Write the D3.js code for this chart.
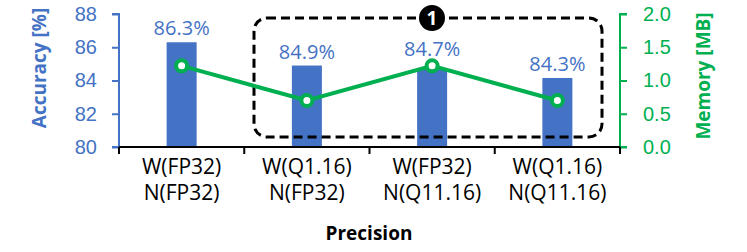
<!DOCTYPE html>
<html>
<head>
<meta charset="utf-8">
<script src="https://cdn.jsdelivr.net/npm/d3@7"></script>
<style>
  body { margin: 0; background: #fff; }
  svg { font-family: "Open Sans", "Noto Sans", sans-serif; }
</style>
</head>
<body>
<script>
(function(){

//chart data
var categories = ["W(FP32)|N(FP32)", "W(Q1.16)|N(FP32)", "W(FP32)|N(Q11.16)", "W(Q1.16)|N(Q11.16)"];
var accuracy = [86.3, 84.9, 84.7, 84.15];
var accuracyLabels = ["86.3%", "84.9%", "84.7%", "84.3%"];
var memory = [1.22, 0.70, 1.22, 0.70];
var accTicks = [80, 82, 84, 86, 88];
var memTicks = [0, 0.5, 1.0, 1.5, 2.0];

var blue = "#4472C4",
    green = "#00B050";

var width = 747, height = 252;

var svg = d3.select("body").append("svg")
    .attr("width", width)
    .attr("height", height);

//scales
var x = d3.scaleBand()
    .domain(categories)
    .range([119, 620])
    .padding(0);

var yAcc = d3.scaleLinear().domain([80, 88]).range([147, 14]);
var yMem = d3.scaleLinear().domain([0, 2]).range([147, 14]);

var barWidth = 30;

function cx(i){ return x(categories[i]) + x.bandwidth() / 2; }

//left axis
var leftAxis = svg.append("g")
    .attr("transform", "translate(119,0)")
    .call(d3.axisLeft(yAcc).tickValues(accTicks).tickSize(7).tickPadding(15).tickFormat(d3.format("d")));
leftAxis.selectAll("path, line").attr("stroke", blue).attr("stroke-width", 2);
leftAxis.selectAll("text").attr("fill", blue).style("font-size", "20px");
leftAxis.select(".domain").attr("d", "M-7,147H0V14H-7");

//right axis
var rightAxis = svg.append("g")
    .attr("transform", "translate(620,0)")
    .call(d3.axisRight(yMem).tickValues(memTicks).tickSize(7).tickPadding(16).tickFormat(d3.format(".1f")));
rightAxis.selectAll("path, line").attr("stroke", green).attr("stroke-width", 2);
rightAxis.selectAll("text").attr("fill", green).style("font-size", "20px");
rightAxis.select(".domain").attr("d", "M7,147H0V14H7");

//bars
svg.selectAll(".bar")
    .data(accuracy)
    .enter()
    .append("rect")
    .attr("class", "bar")
    .attr("x", function(d, i){ return cx(i) - barWidth / 2; })
    .attr("y", function(d){ return yAcc(d); })
    .attr("width", barWidth)
    .attr("height", function(d){ return yAcc(80) - yAcc(d); })
    .attr("fill", blue);

//bar value labels, lifted above the memory marker where they would overlap
svg.selectAll(".barLabel")
    .data(accuracy)
    .enter()
    .append("text")
    .attr("class", "barLabel")
    .attr("x", function(d, i){ return cx(i); })
    .attr("y", function(d, i){ return Math.min(yAcc(d), yMem(memory[i]) - 3) - 7; })
    .attr("text-anchor", "middle")
    .attr("fill", blue)
    .style("font-size", "20px")
    .text(function(d, i){ return accuracyLabels[i]; });

//x axis baseline with boundary ticks
var bottom = svg.append("g");
bottom.append("line")
    .attr("x1", 119).attr("x2", 620)
    .attr("y1", 147).attr("y2", 147)
    .attr("stroke", "#000").attr("stroke-width", 2);
var bounds = categories.map(function(c){ return x(c); }).concat([x.range()[1]]);
bottom.selectAll(".xtick")
    .data(bounds)
    .enter()
    .append("line")
    .attr("x1", function(d){ return d; })
    .attr("x2", function(d){ return d; })
    .attr("y1", 147).attr("y2", 154)
    .attr("stroke", "#000").attr("stroke-width", 2);

//category labels (two lines)
var catLabels = svg.selectAll(".cat")
    .data(categories)
    .enter()
    .append("text")
    .attr("class", "cat")
    .attr("text-anchor", "middle")
    .attr("fill", "#000")
    .style("font-size", "21px");
catLabels.each(function(d){
    var lines = d.split("|");
    var t = d3.select(this);
    lines.forEach(function(l, j){
        t.append("tspan")
            .attr("x", x(d) + x.bandwidth() / 2)
            .attr("y", 174 + j * 26)
            .text(l);
    });
});

//axis titles
svg.append("text")
    .attr("x", 369).attr("y", 240)
    .attr("text-anchor", "middle")
    .style("font-size", "19px").style("font-weight", "bold")
    .text("Precision");

svg.append("text")
    .attr("transform", "translate(46,68) rotate(-90)")
    .attr("text-anchor", "middle")
    .attr("fill", blue)
    .style("font-size", "19px").style("font-weight", "bold")
    .text("Accuracy [%]");

svg.append("text")
    .attr("transform", "translate(710,76) rotate(-90)")
    .attr("text-anchor", "middle")
    .attr("fill", green)
    .style("font-size", "19px").style("font-weight", "bold")
    .text("Memory [MB]");

//dashed annotation box
svg.append("rect")
    .attr("x", 254).attr("y", 18)
    .attr("width", 348).attr("height", 119)
    .attr("rx", 13).attr("ry", 13)
    .attr("fill", "none")
    .attr("stroke", "#000")
    .attr("stroke-width", 3)
    .attr("stroke-dasharray", "9,5");

//memory line
var line = d3.line()
    .x(function(d, i){ return cx(i); })
    .y(function(d){ return yMem(d); });

svg.append("path")
    .datum(memory)
    .attr("d", line)
    .attr("fill", "none")
    .attr("stroke", green)
    .attr("stroke-width", 4);

svg.selectAll(".pt")
    .data(memory)
    .enter()
    .append("circle")
    .attr("class", "pt")
    .attr("cx", function(d, i){ return cx(i); })
    .attr("cy", function(d){ return yMem(d); })
    .attr("r", 5.5)
    .attr("fill", "#fff")
    .attr("stroke", green)
    .attr("stroke-width", 4);

//badge
svg.append("circle")
    .attr("cx", 432).attr("cy", 18).attr("r", 13)
    .attr("fill", "#000");
svg.append("text")
    .attr("x", 432).attr("y", 25)
    .attr("text-anchor", "middle")
    .attr("fill", "#fff")
    .style("font-size", "19px").style("font-weight", "bold")
    .text("1");

})();
</script>
</body>
</html>
